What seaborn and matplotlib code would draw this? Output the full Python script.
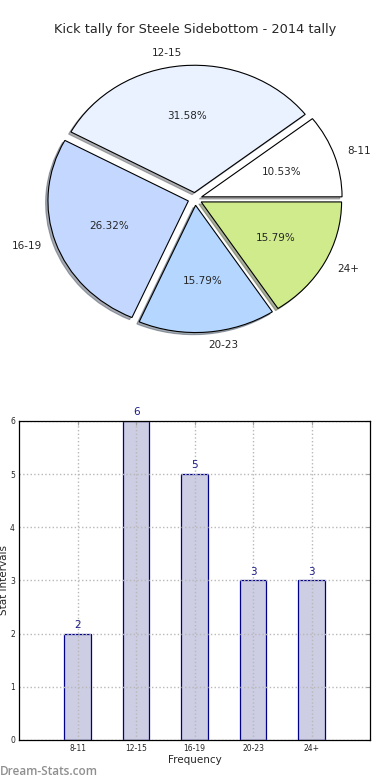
import pandas as pd
import matplotlib
matplotlib.use("Agg")
import matplotlib.pyplot as plt
import seaborn as sns

# data
categories = ["8-11", "12-15", "16-19", "20-23", "24+"]
counts = [2, 6, 5, 3, 3]
pie_colors = ["#ffffff", "#eaf1ff", "#c4d8ff", "#b4d6ff", "#cfeb8b"]
title = "Kick tally for Steele Sidebottom - 2014 tally"

sns.set_style("white")
plt.rcParams["font.family"] = ["DejaVu Sans"]

fig = plt.figure(figsize=(3.9, 7.8), dpi=100)

# ---------------------------------------------------------------
# PIE CHART
ax1 = fig.add_axes([0.05, 0.541, 0.9, 0.408])
wedges, texts, autotexts = ax1.pie(
    counts, labels=categories, colors=pie_colors, autopct="%1.2f%%",
    explode=[0.05] * len(counts), startangle=0,
    shadow={"ox": -0.012, "oy": -0.012, "shade": 0.6},
    wedgeprops={"edgecolor": "black", "linewidth": 0.8},
    textprops={"fontsize": 7.5},
)
ax1.set_aspect("auto")
ax1.set_xlim(-1.25, 1.25)
ax1.set_ylim(-1.25, 1.25)
ax1.set_title(title, fontsize=9.3, pad=5)

# ---------------------------------------------------------------
# BAR CHART
ax2 = fig.add_axes([0.049, 0.0513, 0.9, 0.409])
df = pd.DataFrame({"interval": categories, "count": counts})
sns.barplot(data=df, x="interval", y="count", ax=ax2, width=0.45,
            color="#cdcde4", saturation=1, edgecolor="#000088", linewidth=0.9)
ax2.set_xlim(-1, 5)
ax2.set_ylim(0, 6)
ax2.set_yticks(range(0, 7))
ax2.grid(True, linestyle=":", color="#b8b8b8", linewidth=1.0)
ax2.set_axisbelow(False)
for p in ax2.patches:
    p.set_zorder(1)
ax2.tick_params(labelsize=5.5, direction="in", length=3, color="#a0a0a0",
                top=True, right=True, pad=3)
for s in ax2.spines.values():
    s.set_color("black")
    s.set_linewidth(0.9)
    s.set_zorder(3)
ax2.set_xlabel("Frequency", fontsize=7.5, labelpad=1)
ax2.set_ylabel("Stat Intervals", fontsize=7.5, labelpad=1)
for i, v in enumerate(counts):
    ax2.text(i, v + 0.07, str(v), ha="center", va="bottom",
             fontsize=7.5, color="#1a1a8a")

fig.text(0.0, 0.003, "Dream-Stats.com", fontsize=8.5, color="#8f8f8f",
         family=["Open Sans", "DejaVu Sans"], fontweight="semibold",
         ha="left", va="bottom")

fig.savefig("out.png", dpi=100)
